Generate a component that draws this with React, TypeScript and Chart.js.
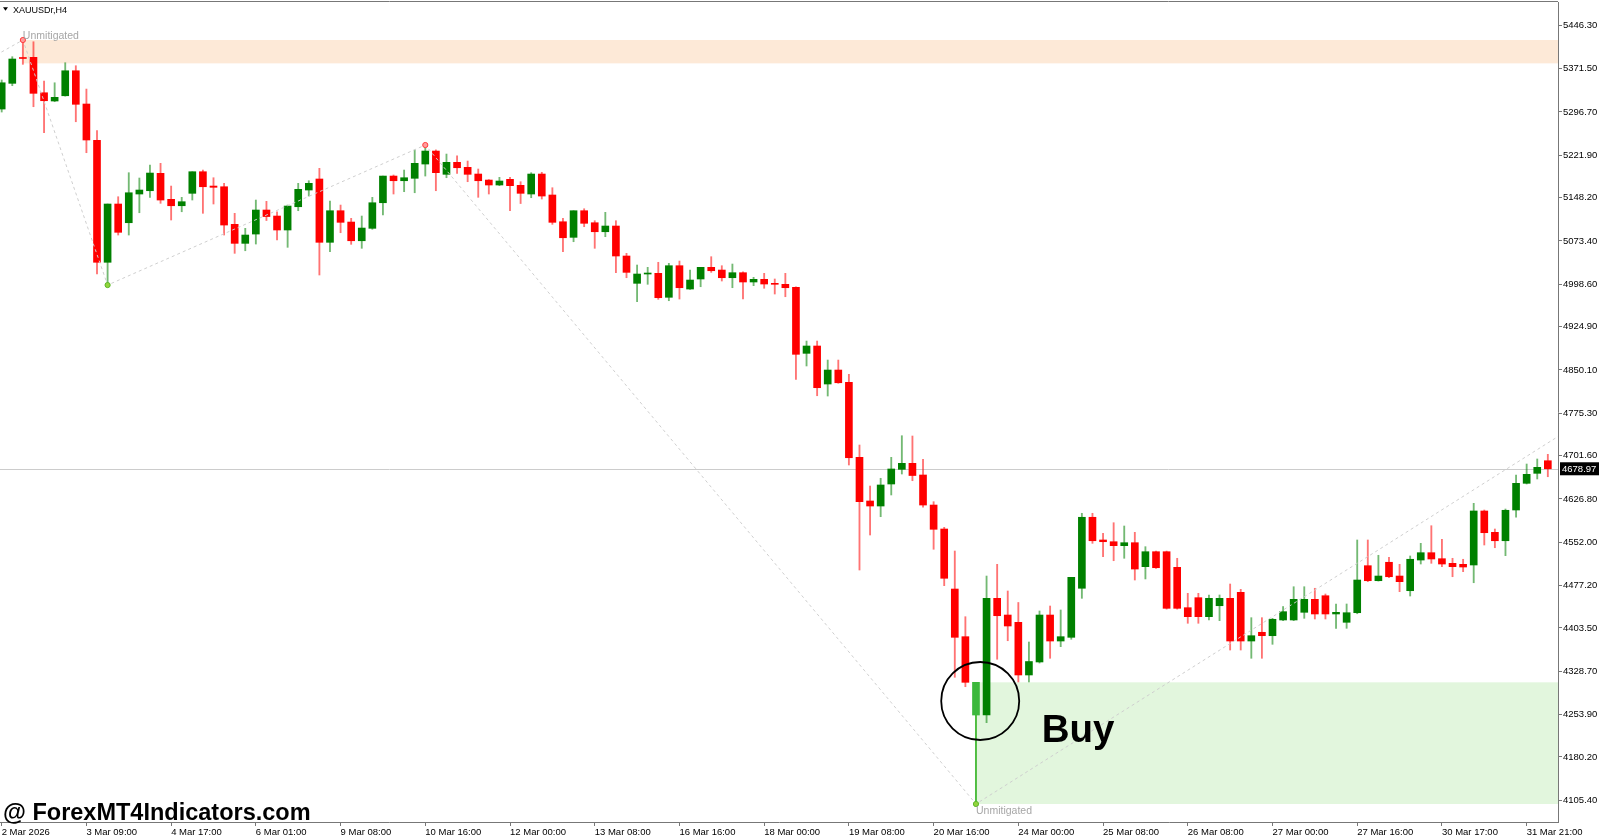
import { useEffect, useRef } from 'react';
import { Chart, registerables } from 'chart.js';

Chart.register(...registerables);

// ---- Candle data (H4 XAUUSDr) ----
const CANDLE_OPEN = [
  5301.7, 5346.2, 5389.8, 5391.2, 5329.9, 5315.6, 5324.7, 5368.0, 5310.4, 5247.5,
  5036.4, 5137.3, 5104.9, 5154.6, 5160.3, 5190.4, 5145.4, 5134.3, 5155.8, 5193.2,
  5168.4, 5167.2, 5102.1, 5069.2, 5085.3, 5126.9, 5116.5, 5092.3, 5132.6, 5161.5,
  5180.6, 5071.0, 5125.7, 5106.1, 5073.7, 5095.2, 5139.5, 5185.7, 5177.6, 5181.8,
  5206.5, 5229.0, 5188.7, 5209.5, 5200.8, 5189.2, 5178.8, 5170.2, 5180.0, 5169.6,
  5154.6, 5189.2, 5152.9, 5106.6, 5079.6, 5125.7, 5104.9, 5089.3, 5099.2, 5047.3,
  5000.0, 5016.1, 5017.3, 4975.8, 5030.5, 4990.1, 5007.5, 5027.7, 5023.0, 5009.7,
  5018.4, 5002.3, 5006.9, 5000.0, 4998.3, 4993.1, 4878.8, 4891.5, 4825.7, 4849.9,
  4828.6, 4698.8, 4623.2, 4614.5, 4652.6, 4678.0, 4688.4, 4668.2, 4616.2, 4574.7,
  4470.8, 4388.3, 4252.7, 4252.7, 4454.7, 4425.8, 4413.2, 4322.0, 4344.5, 4425.8,
  4380.8, 4387.2, 4472.1, 4595.0, 4555.7, 4552.7, 4545.8, 4551.0, 4509.5, 4535.4,
  4535.4, 4508.4, 4438.5, 4455.8, 4422.9, 4441.9, 4454.7, 4465.1, 4380.8, 4395.9,
  4390.0, 4417.2, 4417.2, 4430.5, 4453.0, 4459.2, 4427.6, 4413.2, 4429.8, 4511.2,
  4485.2, 4517.1, 4493.3, 4467.9, 4521.0, 4533.7, 4523.3, 4515.3, 4513.6, 4512.4,
  4605.9, 4569.0, 4554.4, 4607.6, 4653.8, 4671.1, 4692.9,
];
const CANDLE_HIGH = [
  5352.0, 5392.3, 5421.2, 5418.2, 5350.2, 5347.2, 5381.9, 5376.7, 5336.3, 5264.2,
  5137.3, 5149.9, 5191.5, 5182.3, 5204.8, 5207.7, 5168.4, 5148.9, 5193.2, 5196.1,
  5182.8, 5173.1, 5121.2, 5095.2, 5144.2, 5141.9, 5123.9, 5135.5, 5173.1, 5177.6,
  5199.1, 5142.5, 5135.5, 5112.5, 5116.5, 5148.9, 5185.7, 5187.5, 5196.1, 5230.7,
  5239.4, 5231.0, 5223.8, 5220.9, 5211.7, 5197.9, 5179.5, 5183.5, 5183.5, 5175.9,
  5191.5, 5192.2, 5165.5, 5112.5, 5125.7, 5129.1, 5108.4, 5122.9, 5108.4, 5051.9,
  5031.7, 5027.7, 5036.4, 5034.6, 5038.6, 5023.0, 5027.7, 5046.1, 5030.5, 5033.4,
  5020.1, 5010.4, 5017.3, 5007.5, 5017.3, 4994.0, 4900.1, 4900.1, 4867.2, 4867.2,
  4842.5, 4720.1, 4649.1, 4662.5, 4698.8, 4736.2, 4735.7, 4695.4, 4622.0, 4577.6,
  4536.6, 4422.9, 4309.3, 4493.3, 4513.6, 4467.4, 4447.5, 4379.1, 4432.8, 4441.4,
  4434.5, 4491.1, 4601.9, 4601.9, 4567.3, 4585.6, 4579.9, 4569.0, 4544.1, 4536.5,
  4536.5, 4524.0, 4463.4, 4463.4, 4460.5, 4460.5, 4479.5, 4470.3, 4421.2, 4421.2,
  4420.1, 4440.5, 4474.8, 4474.8, 4472.1, 4462.2, 4444.9, 4444.9, 4555.7, 4555.7,
  4529.2, 4525.7, 4513.6, 4528.0, 4549.9, 4580.4, 4556.9, 4524.0, 4522.3, 4619.2,
  4607.6, 4574.7, 4609.3, 4668.2, 4687.2, 4695.9, 4704.0,
];
const CANDLE_LOW = [
  5296.5, 5342.1, 5379.1, 5305.7, 5260.7, 5314.4, 5324.0, 5279.7, 5226.1, 5016.1,
  4997.0, 5083.6, 5083.6, 5122.2, 5148.9, 5138.5, 5109.6, 5123.9, 5144.2, 5121.2,
  5137.3, 5083.6, 5051.9, 5056.4, 5068.0, 5108.7, 5075.0, 5062.3, 5125.7, 5151.1,
  5014.4, 5054.7, 5087.6, 5067.5, 5060.6, 5093.5, 5118.2, 5154.6, 5158.6, 5156.8,
  5185.7, 5160.3, 5182.8, 5190.4, 5175.9, 5148.9, 5154.6, 5169.0, 5125.7, 5138.1,
  5148.2, 5145.9, 5102.1, 5054.7, 5072.0, 5098.0, 5060.6, 5080.7, 5018.4, 5009.7,
  4968.2, 4998.3, 4972.3, 4969.9, 4972.8, 4989.6, 4994.1, 5019.0, 5004.0, 4992.4,
  4972.8, 4995.9, 4991.4, 4981.5, 4976.8, 4833.8, 4856.9, 4805.4, 4804.9, 4826.9,
  4685.5, 4503.7, 4564.3, 4596.0, 4633.6, 4669.9, 4658.3, 4612.3, 4539.6, 4476.6,
  4318.0, 4301.7, 4098.7, 4239.4, 4349.2, 4381.3, 4309.9, 4309.9, 4342.7, 4350.9,
  4371.0, 4383.8, 4454.7, 4549.9, 4526.8, 4519.8, 4524.0, 4486.4, 4488.2, 4506.5,
  4436.0, 4436.0, 4411.5, 4411.5, 4417.2, 4416.0, 4365.2, 4365.2, 4350.9, 4350.9,
  4375.1, 4416.0, 4416.0, 4420.1, 4418.9, 4418.9, 4402.8, 4402.8, 4428.0, 4483.5,
  4484.5, 4490.4, 4466.2, 4458.7, 4514.1, 4515.3, 4509.5, 4492.1, 4500.8, 4481.7,
  4547.0, 4542.3, 4528.5, 4595.0, 4652.6, 4661.3, 4665.2,
];
const CANDLE_CLOSE = [
  5347.2, 5388.3, 5389.2, 5328.9, 5316.1, 5322.0, 5368.0, 5309.9, 5248.1, 5036.4,
  5137.3, 5088.3, 5156.8, 5161.5, 5190.9, 5144.2, 5134.3, 5141.3, 5193.2, 5167.2,
  5166.2, 5100.9, 5069.2, 5083.6, 5126.9, 5115.6, 5092.3, 5133.8, 5162.7, 5173.1,
  5071.0, 5125.7, 5105.6, 5073.7, 5095.7, 5139.5, 5185.7, 5177.6, 5182.8, 5207.7,
  5229.0, 5191.5, 5209.5, 5200.1, 5188.7, 5177.6, 5170.2, 5177.1, 5169.0, 5155.8,
  5189.2, 5151.1, 5105.6, 5078.9, 5125.7, 5103.9, 5089.3, 5099.2, 5047.3, 5019.0,
  5016.1, 5017.8, 4975.1, 5030.5, 4992.4, 5005.7, 5027.7, 5021.8, 5009.7, 5018.4,
  5002.3, 5006.9, 4998.8, 4998.3, 4992.4, 4877.1, 4891.5, 4819.3, 4849.9, 4827.9,
  4698.1, 4622.0, 4614.5, 4650.9, 4678.6, 4688.4, 4667.3, 4616.2, 4574.2, 4489.4,
  4387.2, 4309.3, 4309.3, 4454.7, 4424.6, 4406.8, 4322.0, 4345.3, 4425.8, 4380.8,
  4388.3, 4491.1, 4595.0, 4554.4, 4552.7, 4545.8, 4551.0, 4505.4, 4535.4, 4507.7,
  4437.4, 4437.4, 4422.9, 4422.9, 4454.7, 4454.7, 4380.8, 4380.8, 4390.0, 4390.0,
  4418.4, 4431.6, 4453.0, 4453.0, 4427.6, 4427.6, 4430.5, 4429.8, 4486.4, 4485.2,
  4493.3, 4492.1, 4483.5, 4522.3, 4533.7, 4522.8, 4514.1, 4509.5, 4508.9, 4605.9,
  4568.3, 4554.4, 4607.1, 4653.8, 4669.4, 4681.5, 4679.0,
];

const HIGHLIGHT_INDEX = 92;

// ---- Axes ----
const X_TICK_INDEX = [0, 8, 16, 24, 32, 40, 48, 56, 64, 72, 80, 88, 96, 104, 112, 120, 128, 136, 144];
const X_TICK_LABELS = [
  '2 Mar 2026', '3 Mar 09:00', '4 Mar 17:00', '6 Mar 01:00', '9 Mar 08:00', '10 Mar 16:00',
  '12 Mar 00:00', '13 Mar 08:00', '16 Mar 16:00', '18 Mar 00:00', '19 Mar 08:00', '20 Mar 16:00',
  '24 Mar 00:00', '25 Mar 08:00', '26 Mar 08:00', '27 Mar 00:00', '27 Mar 16:00', '30 Mar 17:00',
  '31 Mar 21:00',
];
const Y_TICKS = [
  5446.3, 5371.5, 5296.7, 5221.9, 5148.2, 5073.4, 4998.6, 4924.9, 4850.1, 4775.3,
  4701.6, 4626.8, 4552.0, 4477.2, 4403.5, 4328.7, 4253.9, 4180.2, 4105.4,
];
const X_MIN = -0.16;
const X_MAX = 146.96;
const Y_MIN = 4067.5;
const Y_MAX = 5487.0;
const LAST_PRICE = 4678.97;

// ---- Zones / annotations ----
const SUPPLY_ZONE_START = 2;
const SUPPLY_ZONE_TOP = 5421.2;
const SUPPLY_ZONE_BOTTOM = 5380.8;
const DEMAND_ZONE_START = 92;
const DEMAND_ZONE_TOP = 4309.3;
const DEMAND_ZONE_BOTTOM = 4098.7;

const ZIGZAG_X = [-2, 2, 10, 40, 92, 150];
const ZIGZAG_Y = [5380.0, 5421.2, 4997.0, 5239.4, 4098.7, 4770.0];

const PIVOT_X = [2, 10, 40, 92];
const PIVOT_Y = [5421.2, 4997.0, 5239.4, 4098.7];
const PIVOT_IS_HIGH = [true, false, true, false];

const SYMBOL_TITLE = 'XAUUSDr,H4';
const ZONE_LABEL = 'Unmitigated';
const SIGNAL_LABEL = 'Buy';
const SIGNAL_INDEX = 98.2;
const SIGNAL_PRICE = 4205.5;
const CIRCLE_INDEX = 92.4;
const CIRCLE_PRICE = 4277.0;
const WATERMARK = '@ ForexMT4Indicators.com';

const FONT = '"Liberation Sans", Arial, sans-serif';
const BULL = '#008000';
const BEAR = '#ff0000';
const HIGHLIGHT = '#3cb83c';

const overlayPlugin = {
  id: 'mt4overlay',
  beforeDatasetsDraw(chart: any) {
    const { ctx, chartArea: a, scales } = chart;
    const xs = scales.x;
    const ys = scales.y;
    ctx.save();
    ctx.beginPath();
    ctx.rect(a.left, a.top, a.right - a.left, a.bottom - a.top);
    ctx.clip();
    // supply zone
    let x0 = xs.getPixelForValue(SUPPLY_ZONE_START);
    let y0 = ys.getPixelForValue(SUPPLY_ZONE_TOP);
    let y1 = ys.getPixelForValue(SUPPLY_ZONE_BOTTOM);
    ctx.fillStyle = '#fde9d7';
    ctx.fillRect(x0, y0, a.right - x0, y1 - y0);
    // demand zone
    x0 = xs.getPixelForValue(DEMAND_ZONE_START);
    y0 = ys.getPixelForValue(DEMAND_ZONE_TOP);
    y1 = ys.getPixelForValue(DEMAND_ZONE_BOTTOM);
    ctx.fillStyle = '#e2f6dd';
    ctx.fillRect(x0, y0, a.right - x0, y1 - y0);
    // last price line
    const py = Math.round(ys.getPixelForValue(LAST_PRICE)) + 0.5;
    ctx.strokeStyle = '#cccccc';
    ctx.lineWidth = 1;
    ctx.beginPath();
    ctx.moveTo(a.left, py);
    ctx.lineTo(a.right, py);
    ctx.stroke();
    ctx.restore();
  },
  afterDraw(chart: any) {
    const { ctx, chartArea: a, scales, width } = chart;
    const xs = scales.x;
    const ys = scales.y;
    ctx.save();
    // top border
    ctx.strokeStyle = '#777777';
    ctx.lineWidth = 1;
    ctx.beginPath();
    ctx.moveTo(0, Math.round(a.top) - 0.5);
    ctx.lineTo(a.right, Math.round(a.top) - 0.5);
    ctx.stroke();

    // zone labels
    ctx.fillStyle = '#a6a6a6';
    ctx.font = `10.5px ${FONT}`;
    ctx.textAlign = 'left';
    ctx.textBaseline = 'alphabetic';
    ctx.fillText(ZONE_LABEL, xs.getPixelForValue(SUPPLY_ZONE_START), ys.getPixelForValue(SUPPLY_ZONE_TOP) - 1.5);
    ctx.fillText(ZONE_LABEL, xs.getPixelForValue(DEMAND_ZONE_START), ys.getPixelForValue(DEMAND_ZONE_BOTTOM) + 10);

    // circle around the signal candle
    ctx.strokeStyle = '#000000';
    ctx.lineWidth = 1.8;
    ctx.beginPath();
    ctx.arc(xs.getPixelForValue(CIRCLE_INDEX), ys.getPixelForValue(CIRCLE_PRICE), 39, 0, Math.PI * 2);
    ctx.stroke();

    // Buy label
    ctx.fillStyle = '#000000';
    ctx.font = `bold 38.5px ${FONT}`;
    ctx.fillText(SIGNAL_LABEL, xs.getPixelForValue(SIGNAL_INDEX), ys.getPixelForValue(SIGNAL_PRICE));

    // title
    ctx.beginPath();
    ctx.moveTo(3, 7.3);
    ctx.lineTo(8, 7.3);
    ctx.lineTo(5.5, 10.8);
    ctx.closePath();
    ctx.fill();
    ctx.font = `9px ${FONT}`;
    ctx.fillText(SYMBOL_TITLE, 13, 12.7);

    // watermark
    ctx.font = `bold 23.5px ${FONT}`;
    ctx.fillText(WATERMARK, 3, 820);

    // last price box
    const py = ys.getPixelForValue(LAST_PRICE);
    ctx.fillStyle = '#000000';
    ctx.fillRect(a.right + 2, py - 6.5, width - a.right - 3, 13);
    ctx.fillStyle = '#ffffff';
    ctx.font = `9.5px ${FONT}`;
    ctx.textBaseline = 'middle';
    ctx.fillText(LAST_PRICE.toFixed(2), a.right + 4, py + 0.5);
    ctx.restore();
  },
};

export default function App() {
  const canvasRef = useRef<HTMLCanvasElement>(null);

  useEffect(() => {
    const canvas = canvasRef.current;
    if (!canvas) return;
    const n = CANDLE_OPEN.length;
    const idx = Array.from({ length: n }, (_, i) => i);
    const isBull = (i: number) => CANDLE_CLOSE[i] >= CANDLE_OPEN[i];
    const bodyColors = idx.map((i) => (i === HIGHLIGHT_INDEX ? HIGHLIGHT : isBull(i) ? BULL : BEAR));
    const wickColors = idx.map((i) =>
      i === HIGHLIGHT_INDEX ? '#48bb38' : isBull(i) ? 'rgba(0,128,0,0.55)' : 'rgba(255,0,0,0.55)'
    );

    const chart = new Chart(canvas, {
      type: 'bar',
      data: {
        datasets: [
          {
            type: 'line',
            data: ZIGZAG_X.map((x, i) => ({ x, y: ZIGZAG_Y[i] })),
            borderColor: '#cfcfcf',
            borderWidth: 1,
            borderDash: [3, 3],
            pointRadius: 0,
            pointHoverRadius: 0,
            fill: false,
            tension: 0,
            order: 0,
          } as any,
          {
            type: 'line',
            data: PIVOT_X.map((x, i) => ({ x, y: PIVOT_Y[i] })),
            showLine: false,
            pointRadius: 2.6,
            pointBorderWidth: 1,
            pointBackgroundColor: PIVOT_IS_HIGH.map((h) => (h ? '#ff9c9c' : '#93d43c')),
            pointBorderColor: PIVOT_IS_HIGH.map((h) => (h ? '#ff3b3b' : '#5cb82a')),
            order: -1,
          } as any,
          {
            type: 'bar',
            data: idx.map((i) => ({ x: i, y: [CANDLE_LOW[i], CANDLE_HIGH[i]] })),
            backgroundColor: wickColors,
            borderWidth: 0,
            grouped: false,
            barThickness: 1.2,
            maxBarThickness: 1.2,
            order: 2,
          } as any,
          {
            type: 'bar',
            data: idx.map((i) => ({ x: i, y: [CANDLE_OPEN[i], CANDLE_CLOSE[i]] })),
            backgroundColor: bodyColors,
            borderWidth: 0,
            grouped: false,
            barThickness: 7,
            maxBarThickness: 7,
            minBarLength: 1,
            order: 1,
          } as any,
        ],
      },
      options: {
        responsive: false,
        animation: false,
        layout: { autoPadding: false, padding: { top: 2, left: 0, right: 0, bottom: 0 } },
        plugins: {
          legend: { display: false },
          tooltip: { enabled: false },
        },
        scales: {
          x: {
            type: 'linear',
            min: X_MIN,
            max: X_MAX,
            offset: false,
            grid: {
              offset: false,
              drawOnChartArea: false,
              drawTicks: true,
              tickLength: 4,
              color: '#777777',
            },
            border: { display: true, color: '#777777' },
            ticks: {
              autoSkip: false,
              maxRotation: 0,
              minRotation: 0,
              align: 'start',
              labelOffset: 0,
              padding: 1,
              color: '#000000',
              font: { family: FONT, size: 9.5 },
              callback: (value: any) => {
                const k = X_TICK_INDEX.indexOf(Number(value));
                return k >= 0 ? X_TICK_LABELS[k] : '';
              },
            },
            afterBuildTicks: (scale: any) => {
              scale.ticks = X_TICK_INDEX.map((v) => ({ value: v }));
            },
            afterFit: (scale: any) => {
              scale.height = 17;
              scale.paddingLeft = 0;
              scale.paddingRight = 0;
            },
          } as any,
          y: {
            type: 'linear',
            position: 'right',
            min: Y_MIN,
            max: Y_MAX,
            grid: {
              drawOnChartArea: false,
              drawTicks: true,
              tickLength: 4,
              color: '#777777',
            },
            border: { display: true, color: '#777777' },
            ticks: {
              padding: 1,
              color: '#000000',
              font: { family: FONT, size: 9.5 },
              callback: (value: any) => Number(value).toFixed(2),
            },
            afterBuildTicks: (scale: any) => {
              scale.ticks = Y_TICKS.map((v) => ({ value: v }));
            },
            afterFit: (scale: any) => {
              scale.width = 42;
              scale.paddingTop = 0;
              scale.paddingBottom = 0;
            },
          } as any,
        },
      },
      plugins: [overlayPlugin],
    } as any);

    return () => chart.destroy();
  }, []);

  return (
    <div style={{ position: 'absolute', left: 0, top: 0, width: 1600, height: 839, background: '#ffffff' }}>
      <canvas ref={canvasRef} width={1600} height={839} style={{ display: 'block', width: 1600, height: 839 }} />
    </div>
  );
}
